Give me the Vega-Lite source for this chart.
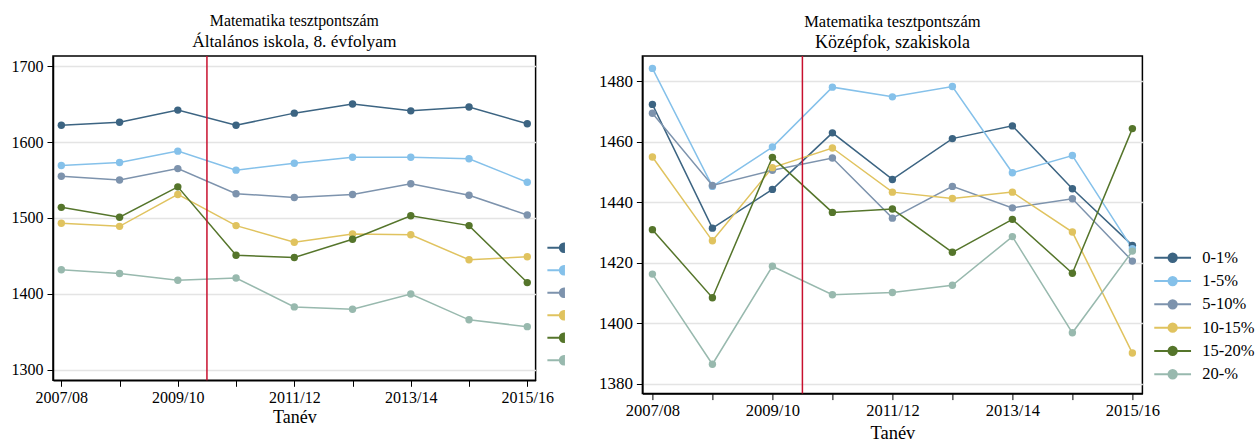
{
  "$schema": "https://vega.github.io/schema/vega-lite/v6.json",
  "background": "white",
  "padding": {"left": 10, "top": 12, "right": 0, "bottom": 0},
  "config": {
    "font": "Liberation Serif",
    "view": {"stroke": "black", "strokeWidth": 1.5},
    "axis": {"labelFont": "Liberation Serif", "titleFont": "Liberation Serif", "labelColor": "#000", "titleColor": "#000", "domainColor": "#000", "tickColor": "#000", "gridColor": "#e4e4e4", "gridWidth": 1.5, "titleFontWeight": "normal", "domainWidth": 1.5, "tickWidth": 1},
    "legend": {"labelFont": "Liberation Serif", "labelColor": "#000"}
  },
  "datasets": {
    "alt": [
      {"tanev": 2007, "csoport": "0-1%", "pont": 1622}, {"tanev": 2008, "csoport": "0-1%", "pont": 1626}, {"tanev": 2009, "csoport": "0-1%", "pont": 1642}, {"tanev": 2010, "csoport": "0-1%", "pont": 1622}, {"tanev": 2011, "csoport": "0-1%", "pont": 1638}, {"tanev": 2012, "csoport": "0-1%", "pont": 1650}, {"tanev": 2013, "csoport": "0-1%", "pont": 1641}, {"tanev": 2014, "csoport": "0-1%", "pont": 1646}, {"tanev": 2015, "csoport": "0-1%", "pont": 1624},
      {"tanev": 2007, "csoport": "1-5%", "pont": 1569}, {"tanev": 2008, "csoport": "1-5%", "pont": 1573}, {"tanev": 2009, "csoport": "1-5%", "pont": 1588}, {"tanev": 2010, "csoport": "1-5%", "pont": 1563}, {"tanev": 2011, "csoport": "1-5%", "pont": 1572}, {"tanev": 2012, "csoport": "1-5%", "pont": 1580}, {"tanev": 2013, "csoport": "1-5%", "pont": 1580}, {"tanev": 2014, "csoport": "1-5%", "pont": 1578}, {"tanev": 2015, "csoport": "1-5%", "pont": 1547},
      {"tanev": 2007, "csoport": "5-10%", "pont": 1555}, {"tanev": 2008, "csoport": "5-10%", "pont": 1550}, {"tanev": 2009, "csoport": "5-10%", "pont": 1565}, {"tanev": 2010, "csoport": "5-10%", "pont": 1532}, {"tanev": 2011, "csoport": "5-10%", "pont": 1527}, {"tanev": 2012, "csoport": "5-10%", "pont": 1531}, {"tanev": 2013, "csoport": "5-10%", "pont": 1545}, {"tanev": 2014, "csoport": "5-10%", "pont": 1530}, {"tanev": 2015, "csoport": "5-10%", "pont": 1504},
      {"tanev": 2007, "csoport": "10-15%", "pont": 1493}, {"tanev": 2008, "csoport": "10-15%", "pont": 1489}, {"tanev": 2009, "csoport": "10-15%", "pont": 1531}, {"tanev": 2010, "csoport": "10-15%", "pont": 1490}, {"tanev": 2011, "csoport": "10-15%", "pont": 1468}, {"tanev": 2012, "csoport": "10-15%", "pont": 1479}, {"tanev": 2013, "csoport": "10-15%", "pont": 1478}, {"tanev": 2014, "csoport": "10-15%", "pont": 1445}, {"tanev": 2015, "csoport": "10-15%", "pont": 1449},
      {"tanev": 2007, "csoport": "15-20%", "pont": 1514}, {"tanev": 2008, "csoport": "15-20%", "pont": 1501}, {"tanev": 2009, "csoport": "15-20%", "pont": 1541}, {"tanev": 2010, "csoport": "15-20%", "pont": 1451}, {"tanev": 2011, "csoport": "15-20%", "pont": 1448}, {"tanev": 2012, "csoport": "15-20%", "pont": 1472}, {"tanev": 2013, "csoport": "15-20%", "pont": 1503}, {"tanev": 2014, "csoport": "15-20%", "pont": 1490}, {"tanev": 2015, "csoport": "15-20%", "pont": 1415},
      {"tanev": 2007, "csoport": "20-%", "pont": 1432}, {"tanev": 2008, "csoport": "20-%", "pont": 1427}, {"tanev": 2009, "csoport": "20-%", "pont": 1418}, {"tanev": 2010, "csoport": "20-%", "pont": 1421}, {"tanev": 2011, "csoport": "20-%", "pont": 1383}, {"tanev": 2012, "csoport": "20-%", "pont": 1380}, {"tanev": 2013, "csoport": "20-%", "pont": 1400}, {"tanev": 2014, "csoport": "20-%", "pont": 1366}, {"tanev": 2015, "csoport": "20-%", "pont": 1357}
    ],
    "koz": [
      {"tanev": 2007, "csoport": "0-1%", "pont": 1472.4}, {"tanev": 2008, "csoport": "0-1%", "pont": 1431.5}, {"tanev": 2009, "csoport": "0-1%", "pont": 1444.3}, {"tanev": 2010, "csoport": "0-1%", "pont": 1463}, {"tanev": 2011, "csoport": "0-1%", "pont": 1447.6}, {"tanev": 2012, "csoport": "0-1%", "pont": 1461.1}, {"tanev": 2013, "csoport": "0-1%", "pont": 1465.3}, {"tanev": 2014, "csoport": "0-1%", "pont": 1444.5}, {"tanev": 2015, "csoport": "0-1%", "pont": 1425.8},
      {"tanev": 2007, "csoport": "1-5%", "pont": 1484.3}, {"tanev": 2008, "csoport": "1-5%", "pont": 1445.3}, {"tanev": 2009, "csoport": "1-5%", "pont": 1458.3}, {"tanev": 2010, "csoport": "1-5%", "pont": 1478.1}, {"tanev": 2011, "csoport": "1-5%", "pont": 1474.9}, {"tanev": 2012, "csoport": "1-5%", "pont": 1478.3}, {"tanev": 2013, "csoport": "1-5%", "pont": 1449.8}, {"tanev": 2014, "csoport": "1-5%", "pont": 1455.5}, {"tanev": 2015, "csoport": "1-5%", "pont": 1424.7},
      {"tanev": 2007, "csoport": "5-10%", "pont": 1469.5}, {"tanev": 2008, "csoport": "5-10%", "pont": 1445.6}, {"tanev": 2009, "csoport": "5-10%", "pont": 1450.6}, {"tanev": 2010, "csoport": "5-10%", "pont": 1454.7}, {"tanev": 2011, "csoport": "5-10%", "pont": 1434.8}, {"tanev": 2012, "csoport": "5-10%", "pont": 1445.3}, {"tanev": 2013, "csoport": "5-10%", "pont": 1438.2}, {"tanev": 2014, "csoport": "5-10%", "pont": 1441.2}, {"tanev": 2015, "csoport": "5-10%", "pont": 1420.6},
      {"tanev": 2007, "csoport": "10-15%", "pont": 1455}, {"tanev": 2008, "csoport": "10-15%", "pont": 1427.3}, {"tanev": 2009, "csoport": "10-15%", "pont": 1451.5}, {"tanev": 2010, "csoport": "10-15%", "pont": 1458}, {"tanev": 2011, "csoport": "10-15%", "pont": 1443.4}, {"tanev": 2012, "csoport": "10-15%", "pont": 1441.3}, {"tanev": 2013, "csoport": "10-15%", "pont": 1443.4}, {"tanev": 2014, "csoport": "10-15%", "pont": 1430.2}, {"tanev": 2015, "csoport": "10-15%", "pont": 1390.2},
      {"tanev": 2007, "csoport": "15-20%", "pont": 1431}, {"tanev": 2008, "csoport": "15-20%", "pont": 1408.5}, {"tanev": 2009, "csoport": "15-20%", "pont": 1454.9}, {"tanev": 2010, "csoport": "15-20%", "pont": 1436.7}, {"tanev": 2011, "csoport": "15-20%", "pont": 1437.8}, {"tanev": 2012, "csoport": "15-20%", "pont": 1423.5}, {"tanev": 2013, "csoport": "15-20%", "pont": 1434.4}, {"tanev": 2014, "csoport": "15-20%", "pont": 1416.6}, {"tanev": 2015, "csoport": "15-20%", "pont": 1464.4},
      {"tanev": 2007, "csoport": "20-%", "pont": 1416.3}, {"tanev": 2008, "csoport": "20-%", "pont": 1386.5}, {"tanev": 2009, "csoport": "20-%", "pont": 1418.9}, {"tanev": 2010, "csoport": "20-%", "pont": 1409.5}, {"tanev": 2011, "csoport": "20-%", "pont": 1410.2}, {"tanev": 2012, "csoport": "20-%", "pont": 1412.6}, {"tanev": 2013, "csoport": "20-%", "pont": 1428.7}, {"tanev": 2014, "csoport": "20-%", "pont": 1396.9}, {"tanev": 2015, "csoport": "20-%", "pont": 1423.9}
    ],
    "valtas": [{"tanev": 2009.5}]
  },
  "bounds": "flush",
  "spacing": 106.4,
  "resolve": {"scale": {"x": "independent", "y": "independent", "color": "shared"}, "legend": {"color": "independent"}},
  "hconcat": [
    {
      "width": 482.6,
      "height": 324.3,
      "title": {"text": "Matematika tesztpontszám", "subtitle": "Általános iskola, 8. évfolyam", "font": "Liberation Serif", "subtitleFont": "Liberation Serif", "fontSize": 15.8, "subtitleFontSize": 17.4, "fontWeight": "normal", "color": "#000", "subtitleColor": "#000", "anchor": "middle", "offset": 4, "subtitlePadding": 3},
      "layer": [
        {
          "data": {"name": "alt"},
          "mark": {"type": "line", "strokeWidth": 1.5},
          "encoding": {
            "x": {"field": "tanev", "type": "quantitative", "scale": {"domain": [2006.857, 2015.143], "nice": false, "zero": false},
                  "axis": {"title": "Tanév", "titleFont": "Liberation Serif", "labelFont": "Liberation Serif", "titleFontSize": 18, "values": [2007, 2008, 2009, 2010, 2011, 2012, 2013, 2014, 2015], "labelExpr": "datum.value % 2 == 1 ? datum.value + '/' + slice('0' + ((datum.value + 1) % 100), -2) : ''", "labelFontSize": 16, "tickSize": 6, "labelPadding": 3, "titlePadding": 3, "grid": false, "labelFlush": false, "labelOverlap": false}},
            "y": {"field": "pont", "type": "quantitative", "scale": {"domain": [1286.4, 1713.2], "nice": false, "zero": false},
                  "axis": {"title": null, "labelFont": "Liberation Serif", "values": [1300, 1400, 1500, 1600, 1700], "format": "d", "labelFontSize": 16, "tickSize": 6, "labelPadding": 4, "grid": true}},
            "color": {"field": "csoport", "type": "nominal",
                      "scale": {"domain": ["0-1%", "1-5%", "5-10%", "10-15%", "15-20%", "20-%"], "range": ["#3c6482", "#85c1ea", "#7d93ad", "#e0c35f", "#55752b", "#98b9ae"]},
                      "legend": {"orient": "none", "legendX": 502.7, "legendY": 183.5, "title": null, "padding": 0, "symbolType": "M-3.6,0H0M0,-0.9A0.9,0.9 0 0,0 0,0.9Z", "symbolSize": 84.6, "symbolStrokeWidth": 2, "labelFont": "Liberation Serif", "labelExpr": "''", "labelFontSize": 16.5, "labelOffset": 24.8, "rowPadding": 5.5,
                                 "encode": {"symbols": {"update": {"fill": {"scale": "color", "field": "value"}, "stroke": {"scale": "color", "field": "value"}, "opacity": {"value": 1}}}}}}
          }
        },
        {
          "data": {"name": "alt"},
          "mark": {"type": "point", "filled": true, "size": 55, "opacity": 1},
          "encoding": {
            "x": {"field": "tanev", "type": "quantitative"},
            "y": {"field": "pont", "type": "quantitative"},
            "color": {"field": "csoport", "type": "nominal"}
          }
        },
        {
          "data": {"name": "valtas"},
          "mark": {"type": "rule", "color": "#c8102e", "strokeWidth": 1.5},
          "encoding": {"x": {"field": "tanev", "type": "quantitative"}}
        }
      ]
    },
    {
      "width": 500,
      "height": 337.6,
      "title": {"text": "Matematika tesztpontszám", "subtitle": "Középfok, szakiskola", "font": "Liberation Serif", "subtitleFont": "Liberation Serif", "fontSize": 16.5, "subtitleFontSize": 18, "fontWeight": "normal", "color": "#000", "subtitleColor": "#000", "anchor": "middle", "offset": 3.5, "subtitlePadding": 3},
      "layer": [
        {
          "data": {"name": "koz"},
          "mark": {"type": "line", "strokeWidth": 1.5},
          "encoding": {
            "x": {"field": "tanev", "type": "quantitative", "scale": {"domain": [2006.833, 2015.167], "nice": false, "zero": false},
                  "axis": {"title": "Tanév", "titleFont": "Liberation Serif", "labelFont": "Liberation Serif", "titleFontSize": 18.5, "values": [2007, 2008, 2009, 2010, 2011, 2012, 2013, 2014, 2015], "labelExpr": "datum.value % 2 == 1 ? datum.value + '/' + slice('0' + ((datum.value + 1) % 100), -2) : ''", "labelFontSize": 16.5, "tickSize": 6, "labelPadding": 3, "titlePadding": 4, "grid": false, "labelFlush": false, "labelOverlap": false}},
            "y": {"field": "pont", "type": "quantitative", "scale": {"domain": [1376.8, 1488.4], "nice": false, "zero": false},
                  "axis": {"title": null, "labelFont": "Liberation Serif", "values": [1380, 1400, 1420, 1440, 1460, 1480], "format": "d", "labelFontSize": 17, "tickSize": 6, "labelPadding": 4, "grid": true}},
            "color": {"field": "csoport", "type": "nominal",
                      "scale": {"domain": ["0-1%", "1-5%", "5-10%", "10-15%", "15-20%", "20-%"], "range": ["#3c6482", "#85c1ea", "#7d93ad", "#e0c35f", "#55752b", "#98b9ae"]},
                      "legend": {"orient": "none", "legendX": 522, "legendY": 193.5, "title": null, "padding": 0, "symbolType": "M-4,0H4M-0.9,0A0.9,0.9 0 1,0 0.9,0A0.9,0.9 0 1,0 -0.9,0", "symbolSize": 84.6, "symbolStrokeWidth": 2, "labelFont": "Liberation Serif", "labelColor": "#000", "labelFontSize": 16.5, "labelOffset": 21.3, "rowPadding": 6.3,
                                 "encode": {"symbols": {"update": {"fill": {"scale": "color", "field": "value"}, "stroke": {"scale": "color", "field": "value"}, "opacity": {"value": 1}}}}}}
          }
        },
        {
          "data": {"name": "koz"},
          "mark": {"type": "point", "filled": true, "size": 55, "opacity": 1},
          "encoding": {
            "x": {"field": "tanev", "type": "quantitative"},
            "y": {"field": "pont", "type": "quantitative"},
            "color": {"field": "csoport", "type": "nominal"}
          }
        },
        {
          "data": {"name": "valtas"},
          "mark": {"type": "rule", "color": "#c8102e", "strokeWidth": 1.5},
          "encoding": {"x": {"field": "tanev", "type": "quantitative"}}
        }
      ]
    }
  ]
}
